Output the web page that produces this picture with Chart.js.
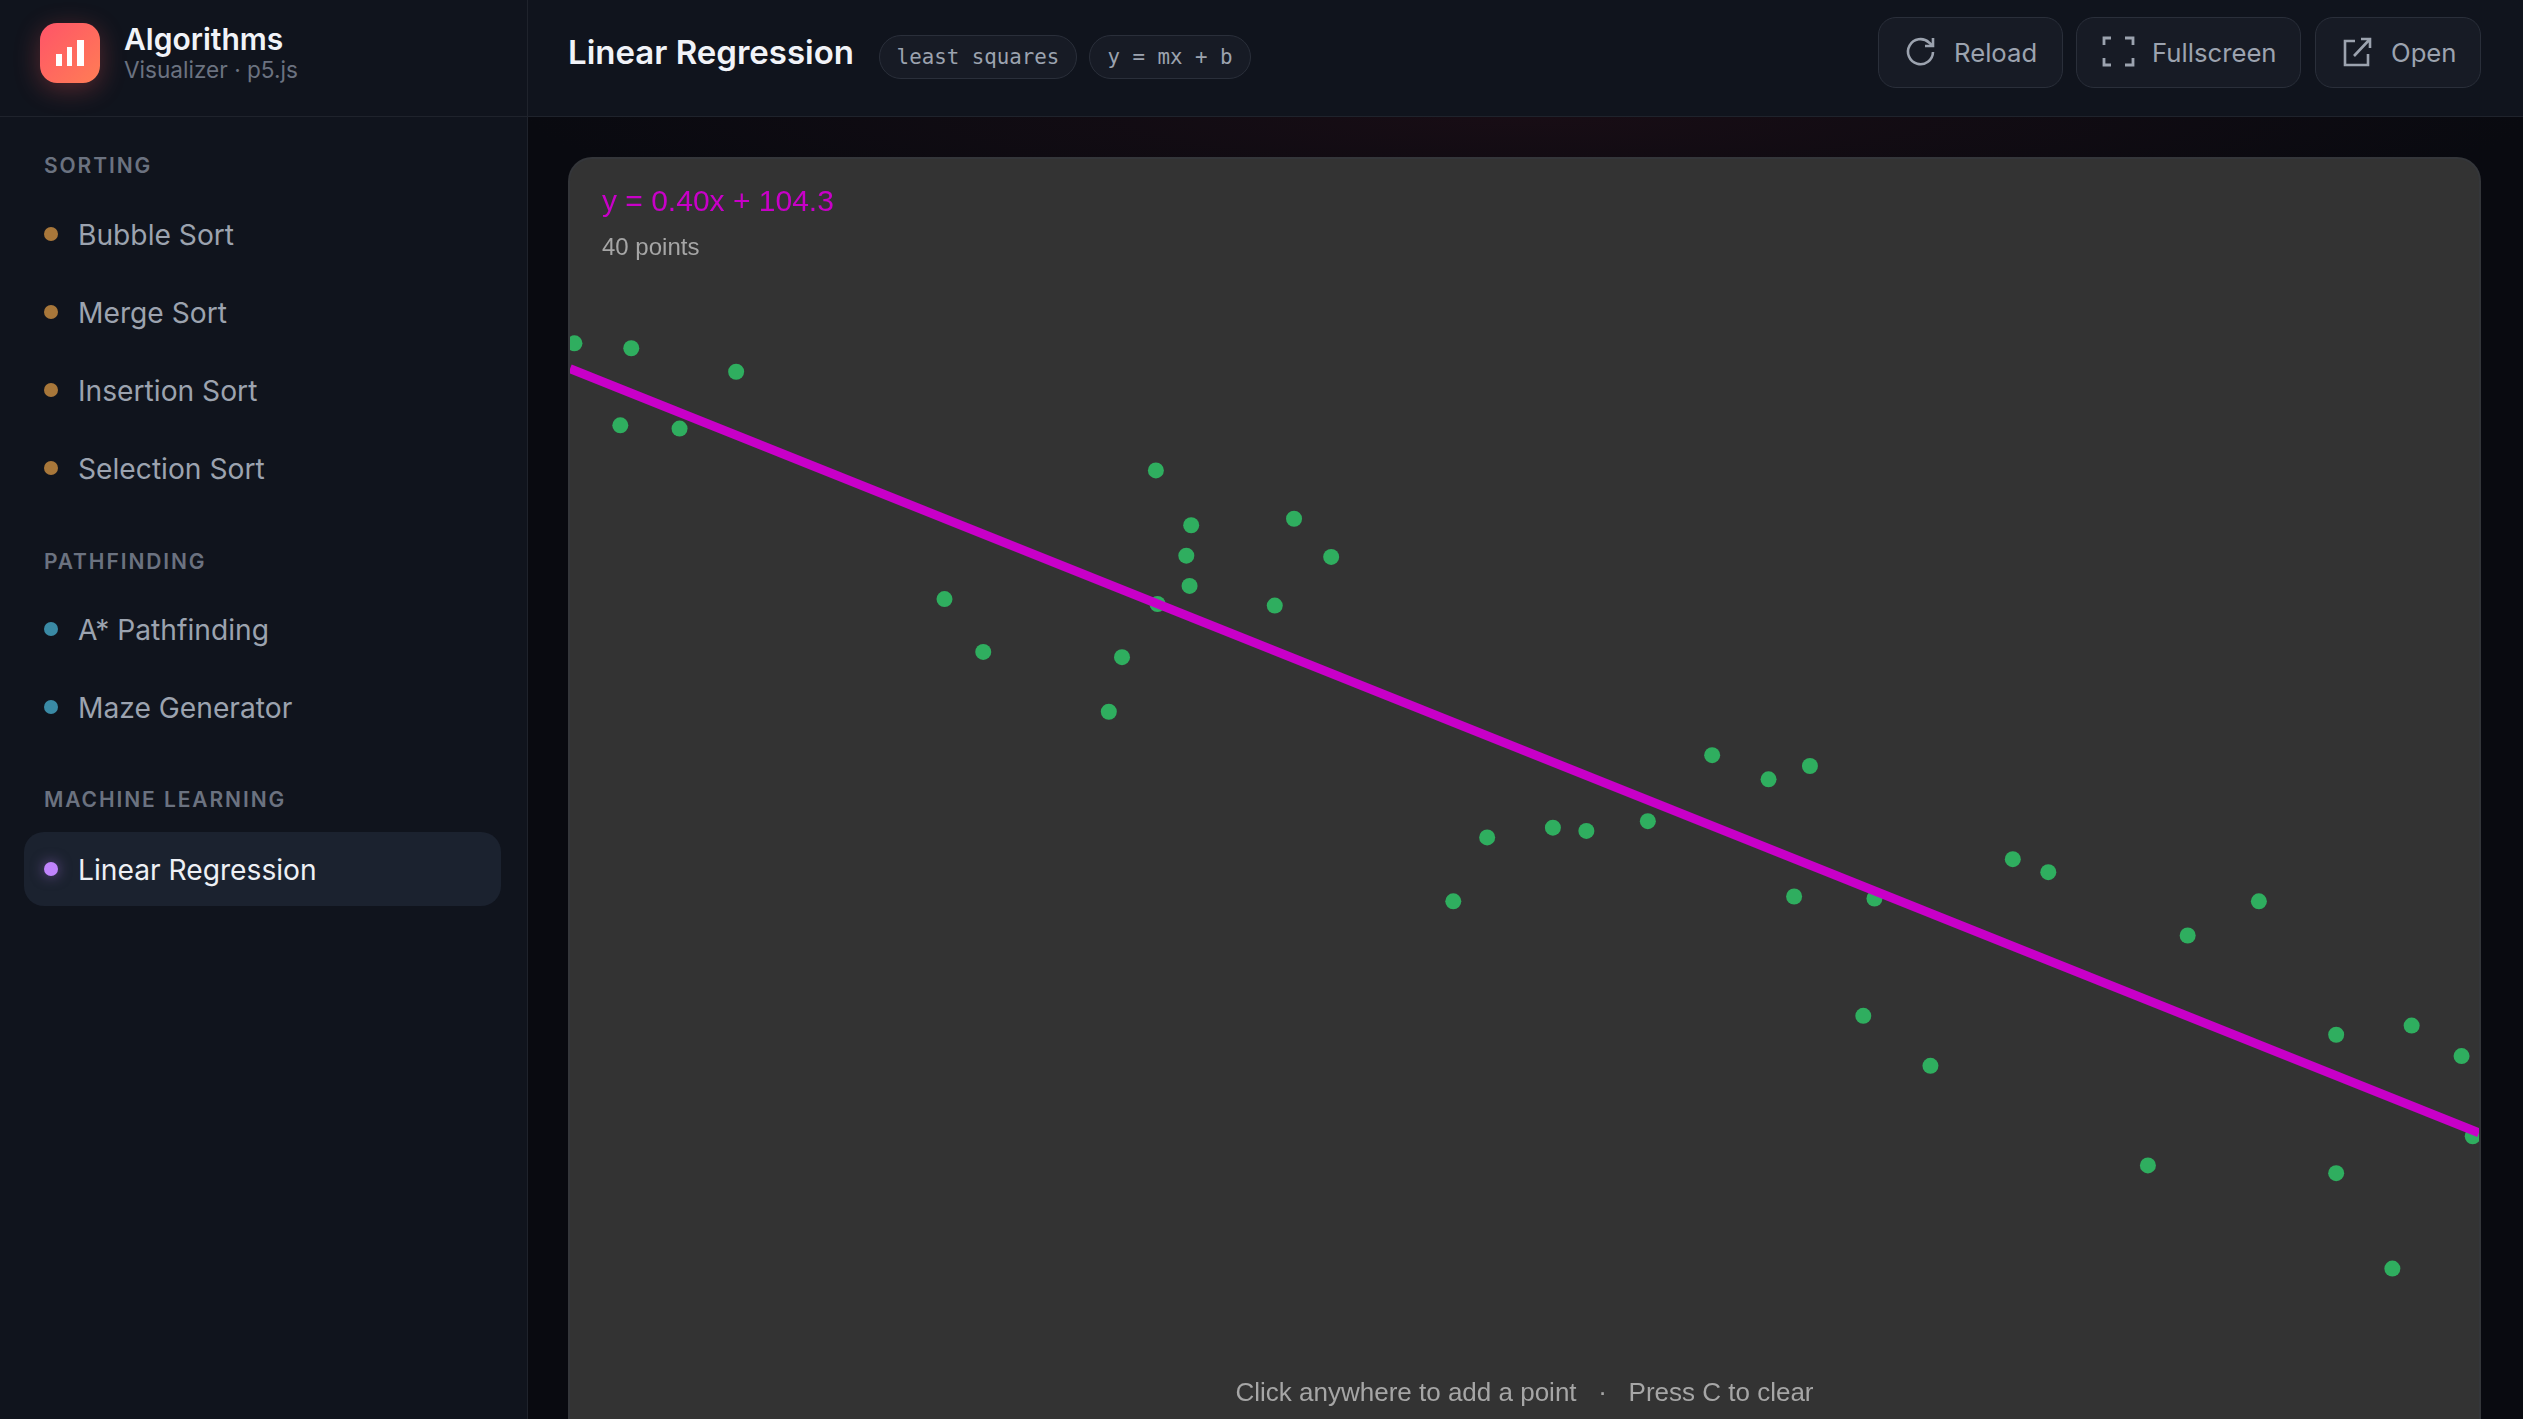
<!DOCTYPE html>
<html>
<head>
<meta charset="utf-8">
<title>Linear Regression</title>
<script src="https://cdn.jsdelivr.net/npm/chart.js@4"></script>
<style>
    html, body { margin: 0; padding: 0; width: 2523px; height: 1419px; overflow: hidden; background: #090a10; font-family: Inter, sans-serif; }
    .abs { position: absolute; white-space: nowrap; }
    #sidebar { position: absolute; left: 0; top: 0; width: 527px; height: 1419px; background: #10141d; border-right: 1px solid #1f232c; }
    #header { position: absolute; left: 528px; top: 0; width: 1995px; height: 116px; background: #10141d; }
    #headerline { position: absolute; left: 0; top: 116px; width: 2523px; height: 1px; background: #1f232c; }
    #glow { position: absolute; left: 528px; top: 117px; width: 1995px; height: 1302px; background: radial-gradient(1000px 110px at 1000px 0, #180d15 0%, rgba(24,13,21,0) 100%); }
    #card { position: absolute; left: 568px; top: 157px; width: 1909px; height: 1300px; background: #333333; border: 2px solid #34363a; border-bottom: none; border-radius: 24px; overflow: hidden; }
    #card canvas { position: absolute; left: 0; top: -2px; }
    .section { left: 44px; font-size: 21px; font-weight: 600; letter-spacing: 1.9px; color: #6b7280; line-height: 30px; }
    .item { left: 78px; font-size: 28.2px; color: #9ca3af; line-height: 40px; }
    .dot { width: 14px; height: 14px; border-radius: 50%; left: 44px; }
    .pill { top: 35px; height: 42px; border: 1px solid #2a2f3a; border-radius: 22px; background: #171b25; color: #9ca3af; font-family: "DejaVu Sans Mono", monospace; font-size: 20.8px; line-height: 42px; text-align: center; }
    .btn { top: 17px; height: 69px; border: 1px solid #2a2f3a; border-radius: 18px; background: #171b25; }
    .btntext { top: 33px; font-size: 25.7px; color: #9ca3af; line-height: 40px; }
    .canvastext { font-family: "Liberation Sans", sans-serif; }
</style>
</head>
<body>
<div id="sidebar"></div>
<div id="header"></div>
<div id="headerline"></div>
<div id="glow"></div>

<div class="abs" style="left:40px;top:23px;width:60px;height:60px;border-radius:17px;background:linear-gradient(135deg,#ff5468,#ff7d55);box-shadow:0 6px 26px rgba(255,90,90,0.3)"></div>
<svg class="abs" style="left:40px;top:23px" width="60" height="60">
    <rect x="16" y="31" width="6" height="12" fill="#fff"/>
    <rect x="27" y="24" width="5" height="19" fill="#fff"/>
    <rect x="37" y="17" width="7" height="26" fill="#fff"/>
</svg>
<div class="abs" style="left:124px;top:20px;font-size:30px;font-weight:600;color:#f1f3f8;line-height:38px">Algorithms</div>
<div class="abs" style="left:124px;top:55px;font-size:22.6px;color:#6b7280;line-height:30px">Visualizer · p5.js</div>

<div id="nav"></div>

<div class="abs" style="left:568px;top:29px;font-size:33px;font-weight:600;color:#f1f3f8;line-height:46px">Linear Regression</div>
<div class="abs pill" style="left:879px;width:196px">least squares</div>
<div class="abs pill" style="left:1089px;width:160px">y = mx + b</div>

<div class="abs btn" style="left:1878px;width:183px"></div>
<div class="abs btn" style="left:2076px;width:223px"></div>
<div class="abs btn" style="left:2315px;width:164px"></div>
<svg class="abs" style="left:1904px;top:36px" width="34" height="32" fill="none" stroke="#9ca3af" stroke-width="2.6">
    <path d="M29 16 A12.5 12.5 0 1 1 25 6.5 L29 10"/>
    <path d="M29 2 L29 10 L21 10"/>
</svg>
<svg class="abs" style="left:2102px;top:36px" width="34" height="32" fill="none" stroke="#9ca3af" stroke-width="2.8">
    <path d="M2 9 L2 2 L9 2 M23 2 L31 2 L31 9 M31 22 L31 29 L23 29 M9 29 L2 29 L2 22"/>
</svg>
<svg class="abs" style="left:2342px;top:36px" width="32" height="32" fill="none" stroke="#9ca3af" stroke-width="2.6">
    <path d="M13 5 L3 5 L3 29 L26 29 L26 18"/>
    <path d="M12 20 L28 3 M19 3 L28 3 L28 12"/>
</svg>
<div class="abs btntext" style="left:1954px">Reload</div>
<div class="abs btntext" style="left:2152px">Fullscreen</div>
<div class="abs btntext" style="left:2391px">Open</div>

<div id="card"><canvas id="chart" width="1909" height="1262"></canvas></div>

<div class="abs canvastext" style="left:602px;top:183px;font-size:30px;color:#c800c8;line-height:36px">y = 0.40x + 104.3</div>
<div class="abs canvastext" style="left:602px;top:232px;font-size:24px;color:#a6a6a6;line-height:30px">40 points</div>
<div class="abs canvastext" style="left:568px;width:1913px;top:1375px;font-size:26px;color:#a6a6a6;line-height:34px;text-align:center;white-space:pre">Click anywhere to add a point   ·   Press C to clear</div>

<script>
const pointsX = [2.2, 30.2, 81.9, 24.8, 54, 288.8, 306.2, 356.9, 303.8, 375.2,
    305.4, 289.6, 347.4, 184.6, 203.7, 272.1, 265.6, 563, 590.8, 611.2,
    452.1, 484.5, 501, 531.3, 435.4, 603.4, 643, 711.2, 728.7, 832.5,
    797.4, 637.5, 670.6, 870.6, 907.8, 932.4, 937.9, 777.8, 870.6, 898.3];
const pointsY = [91.8, 94.2, 105.8, 132.2, 133.8, 154.4, 181.4, 178.2, 196.4, 197,
    211.3, 220.2, 221, 217.8, 243.8, 246.4, 273.3, 294.7, 306.6, 300,
    335.2, 330.4, 332, 327.2, 366.7, 364.3, 365.3, 345.9, 352.3, 366.7,
    383.5, 423.1, 447.7, 432.4, 427.9, 442.9, 482.4, 496.8, 500.6, 547.6];

const lineX = [0, 941];
const lineY = [104.3, 480.7];

const xMax = 941;
const yMax = 621.7;

const navSections = [
    { label: "SORTING", y: 165.5 },
    { label: "PATHFINDING", y: 561.5 },
    { label: "MACHINE LEARNING", y: 799.5 },
];
const navItems = [
    { label: "Bubble Sort", y: 235, color: "#a8773a" },
    { label: "Merge Sort", y: 313, color: "#a8773a" },
    { label: "Insertion Sort", y: 391, color: "#a8773a" },
    { label: "Selection Sort", y: 469, color: "#a8773a" },
    { label: "A* Pathfinding", y: 630, color: "#3a8aa5" },
    { label: "Maze Generator", y: 708, color: "#3a8aa5" },
    { label: "Linear Regression", y: 870, color: "#c084fc", active: true },
];

function drawNav() {
    const nav = document.getElementById("nav");
    let html = "";
    navSections.forEach((s) => {
        html += `<div class="abs section" style="top:${s.y - 15}px">${s.label}</div>`;
    });
    navItems.forEach((item) => {
        if (item.active) {
            html += `<div class="abs" style="left:24px;top:832px;width:477px;height:74px;border-radius:20px;background:#1b222f"></div>`;
            html += `<div class="abs dot" style="top:${item.y - 8}px;background:${item.color};box-shadow:0 0 14px rgba(192,132,252,0.5)"></div>`;
            html += `<div class="abs item" style="top:${item.y - 20}px;color:#eef0f5">${item.label}</div>`;
        } else {
            html += `<div class="abs dot" style="top:${item.y - 8}px;background:${item.color}"></div>`;
            html += `<div class="abs item" style="top:${item.y - 20}px">${item.label}</div>`;
        }
    });
    nav.innerHTML = html;
}

function drawChart() {
    const ctx = document.getElementById("chart").getContext("2d");
    new Chart(ctx, {
        type: "scatter",
        data: {
            datasets: [
                {
                    label: "fit",
                    data: lineX.map((x, i) => ({ x: x, y: lineY[i] })),
                    showLine: true,
                    borderColor: "#c800c8",
                    borderWidth: 9,
                    pointRadius: 0,
                    tension: 0,
                },
                {
                    label: "points",
                    data: pointsX.map((x, i) => ({ x: x, y: pointsY[i] })),
                    backgroundColor: "#2fae5f",
                    borderWidth: 0,
                    pointRadius: 8,
                },
            ],
        },
        options: {
            responsive: false,
            animation: false,
            devicePixelRatio: 1,
            layout: { padding: 0, autoPadding: false },
            plugins: { legend: { display: false }, tooltip: { enabled: false } },
            scales: {
                x: { type: "linear", display: false, min: 0, max: xMax },
                y: { type: "linear", display: false, min: 0, max: yMax, reverse: true },
            },
        },
    });
}

document.addEventListener("DOMContentLoaded", () => {
    drawNav();
    drawChart();
});
</script>
</body>
</html>
